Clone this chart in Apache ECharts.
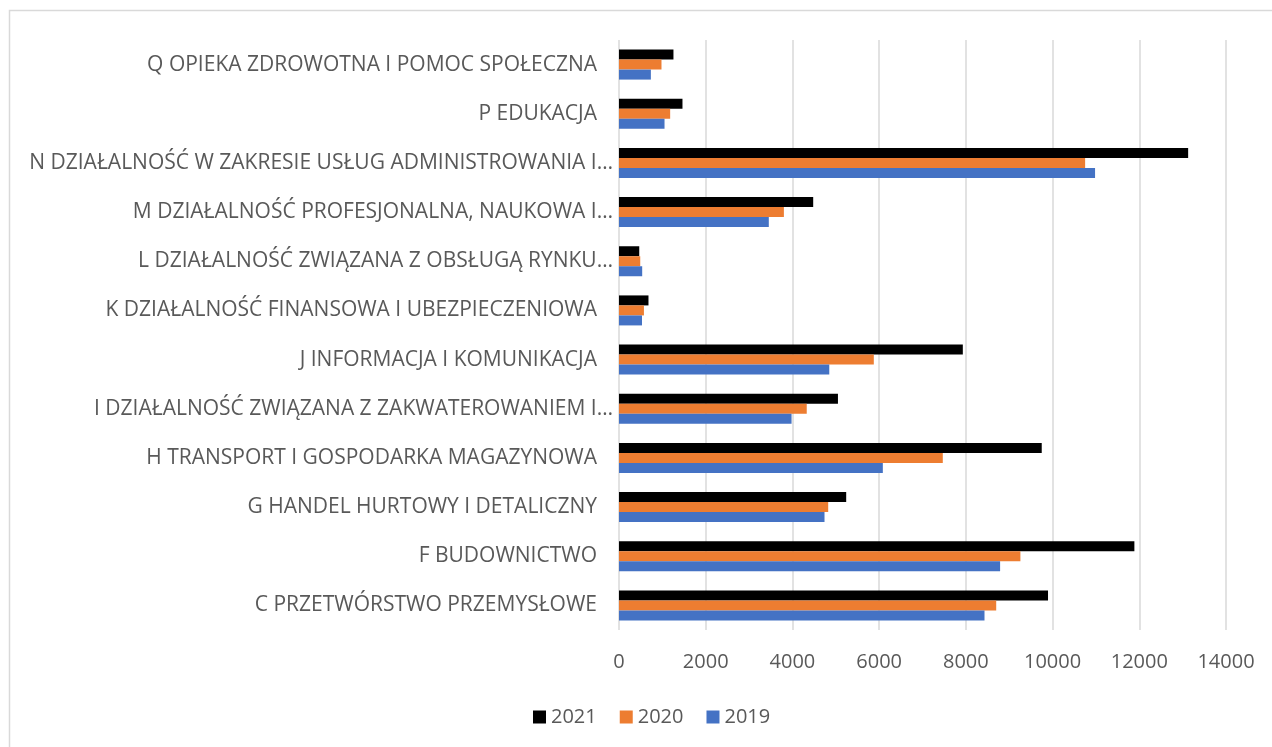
<!DOCTYPE html>
<html>
<head>
<meta charset="utf-8">
<script src="https://cdn.jsdelivr.net/npm/echarts@6/dist/echarts.min.js"></script>
<style>
  html, body { margin: 0; padding: 0; background: #ffffff; }
  #chart { width: 1272px; height: 747px; }
</style>
</head>
<body>
<div id="chart"></div>
<script>
// Sections (bottom to top on the axis)
const categories = [
  'C PRZETWÓRSTWO PRZEMYSŁOWE',
  'F BUDOWNICTWO',
  'G HANDEL HURTOWY I DETALICZNY',
  'H TRANSPORT I GOSPODARKA MAGAZYNOWA',
  'I DZIAŁALNOŚĆ ZWIĄZANA Z ZAKWATEROWANIEM I…',
  'J INFORMACJA I KOMUNIKACJA',
  'K DZIAŁALNOŚĆ FINANSOWA I UBEZPIECZENIOWA',
  'L DZIAŁALNOŚĆ ZWIĄZANA Z OBSŁUGĄ RYNKU…',
  'M DZIAŁALNOŚĆ PROFESJONALNA, NAUKOWA I…',
  'N DZIAŁALNOŚĆ W ZAKRESIE USŁUG ADMINISTROWANIA I…',
  'P EDUKACJA',
  'Q OPIEKA ZDROWOTNA I POMOC SPOŁECZNA'
];

const values2019 = [8430, 8790, 4740, 6085, 3980, 4850, 530, 535, 3455, 10980, 1050, 735];
const values2020 = [8700, 9258, 4825, 7468, 4330, 5877, 575, 490, 3803, 10751, 1180, 980];
const values2021 = [9895, 11887, 5240, 9750, 5050, 7930, 680, 467, 4479, 13127, 1464, 1256];

const legendOrder = ['2021', '2020', '2019'];

const textColor = '#595959';
const gridColor = '#d9d9d9';
const fontFamily = '"Open Sans", sans-serif';

const chart = echarts.init(document.getElementById('chart'), null, { renderer: 'canvas' });

function barSeries(name, data, color) {
  return {
    name: name,
    type: 'bar',
    data: data,
    barWidth: 10,
    barGap: '0%',
    itemStyle: { color: color },
    emphasis: { disabled: true }
  };
}

chart.setOption({
  animation: false,
  backgroundColor: '#ffffff',
  textStyle: { fontFamily: fontFamily },
  graphic: [{
    type: 'rect',
    shape: { x: 9.5, y: 10.5, width: 1300, height: 800 },
    style: { fill: 'none', stroke: gridColor, lineWidth: 1.5 },
    silent: true
  }],
  grid: { left: 619, top: 40, width: 607, height: 590, containLabel: false },
  legend: {
    data: legendOrder,
    left: 533,
    top: 707,
    padding: 0,
    itemWidth: 13,
    itemHeight: 13,
    itemGap: 23,
    icon: 'rect',
    textStyle: { color: textColor, fontSize: 20, fontFamily: fontFamily }
  },
  xAxis: {
    type: 'value',
    min: 0,
    max: 14000,
    interval: 2000,
    axisLine: { show: false },
    axisTick: { show: false },
    splitLine: { show: true, lineStyle: { color: gridColor, width: 1.5 } },
    axisLabel: {
      color: textColor, fontSize: 20, margin: 22, fontFamily: fontFamily,
      formatter: function (v) { return String(v); }
    }
  },
  yAxis: {
    type: 'category',
    data: categories,
    axisLine: { show: false },
    axisTick: { show: false },
    splitLine: { show: false },
    axisLabel: {
      color: textColor,
      fontSize: 21,
      margin: 6,
      fontFamily: fontFamily,
      formatter: function (v) {
        return v.endsWith('…') ? '{t|' + v + '}' : '{p|' + v + '}';
      },
      rich: {
        t: { color: textColor, fontSize: 21, fontFamily: fontFamily },
        p: { color: textColor, fontSize: 21, fontFamily: fontFamily, padding: [0, 16, 0, 0] }
      }
    }
  },
  // series listed top-down within each group
  series: [
    barSeries('2021', values2021, '#000000'),
    barSeries('2020', values2020, '#ED7D31'),
    barSeries('2019', values2019, '#4472C4')
  ]
});
</script>
</body>
</html>
